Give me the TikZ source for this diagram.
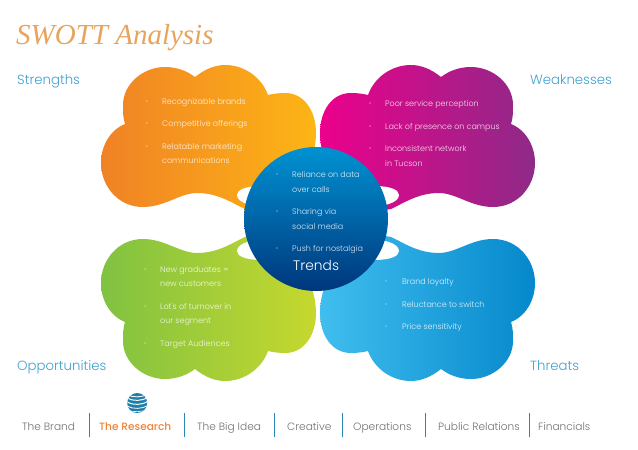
\documentclass[tikz,border=0pt]{standalone}
\usepackage{fontspec}
\setmainfont{Poppins}
\newfontfamily\lightf{Poppins Light}
\newfontfamily\medf{Poppins Medium}
\newfontfamily\titlef{Liberation Serif}
\definecolor{headblue}{HTML}{3FA0CF}
\definecolor{navgray}{HTML}{6F7175}
\definecolor{navorange}{HTML}{EE8438}
\definecolor{navline}{HTML}{2A86B8}
\definecolor{titleor}{HTML}{E9A45C}
\definecolor{globeblue}{HTML}{1F7FA8}
\newcommand{\cloudpath}{
  (195,77) .. controls (205,69) and (215,65) .. (225,65)
  .. controls (245,65) and (262,78) .. (268,95)
  .. controls (272,94) and (278,93) .. (285,93)
  .. controls (305,93) and (316,112) .. (316,133)
  .. controls (316,160) and (300,190) .. (280,215)
  -- (245,209)
  .. controls (232,203) and (218,193) .. (197,193)
  .. controls (180,193) and (165,207) .. (143,207)
  .. controls (118,207) and (101,186) .. (101,163)
  .. controls (101,146) and (110,130) .. (125,124)
  .. controls (123,118) and (123,112) .. (123,105)
  .. controls (123,84) and (143,67) .. (165,67)
  .. controls (177,67) and (187,71) .. (195,77) -- cycle}
\newcommand{\lobepath}{
  (237,195) .. controls (237,190) and (245,186) .. (262,186)
  -- (262,208) -- (247,204) .. controls (241,202) and (237,199) .. (237,195) -- cycle}
\tikzset{
  x=1pt,y=-1pt,
  item/.style={anchor=base west,inner sep=0pt,text=white,text opacity=0.85,font=\lightf\fontsize{8}{10}\selectfont},
  dot/.style={circle,fill=white,fill opacity=0.85,inner sep=0pt,minimum size=1.3pt},
  head/.style={anchor=base west,inner sep=0pt,text=headblue,font=\lightf\fontsize{13.3}{15}\selectfont},
  navitem/.style={anchor=base west,inner sep=0pt,text=navgray,font=\lightf\fontsize{10.6}{12}\selectfont},
  sep/.style={draw=navline,line width=0.9pt},
  gstripe/.style={draw=white,line width=1pt}
}
\begin{document}
\begin{tikzpicture}
\useasboundingbox (0,0) rectangle (638,450);
% clouds
\shade[left color={rgb,255:red,240;green,130;blue,37},right color={rgb,255:red,253;green,181;blue,21}] \cloudpath;
\begin{scope}[shift={(636,0)},xscale=-1]
\shade[left color={rgb,255:red,236;green,0;blue,140},right color={rgb,255:red,142;green,42;blue,135}] \cloudpath;
\end{scope}
\begin{scope}[shift={(0,446)},yscale=-1]
\shade[left color={rgb,255:red,128;green,194;blue,66},right color={rgb,255:red,198;green,216;blue,46}] \cloudpath;
\end{scope}
\begin{scope}[shift={(636,446)},xscale=-1,yscale=-1]
\shade[left color={rgb,255:red,64;green,190;blue,238},right color={rgb,255:red,5;green,136;blue,204}] \cloudpath;
\end{scope}
% lobes
\fill[white] \lobepath;
\begin{scope}[shift={(636,0)},xscale=-1]\fill[white] \lobepath;\end{scope}
\begin{scope}[shift={(0,446)},yscale=-1]\fill[white] \lobepath;\end{scope}
\begin{scope}[shift={(636,446)},xscale=-1,yscale=-1]\fill[white] \lobepath;\end{scope}
% centre
\node[circle,minimum size=144pt,inner sep=0pt,top color={rgb,255:red,0;green,146;blue,210},bottom color={rgb,255:red,0;green,54;blue,124}] (trendsdisc) at (316,219) {};
% title and heads
\node[anchor=base west,inner sep=0pt,text=titleor,font=\titlef\itshape\fontsize{29}{32}\selectfont] (title) at (16,44) {SWOTT Analysis};
\node[head] (hs) at (17,84) {Strengths};
\node[head] (hw) at (530,84) {Weaknesses};
\node[head] (ho) at (17,370) {Opportunities};
\node[head] (ht) at (530,370) {Threats};
% strengths
\node[dot] (s1d) at (147,101) {}; \node[item] (s1) at (162,104) {Recognizable brands};
\node[dot] (s2d) at (147,123) {}; \node[item] (s2) at (162,126) {Competitive offerings};
\node[dot] (s3d) at (147,146) {}; \node[item] (s3) at (162,149) {Relatable marketing};
\node[item] (s4) at (162,163) {communications};
% weaknesses
\node[dot] (w1d) at (370,103) {}; \node[item] (w1) at (385,106) {Poor service perception};
\node[dot] (w2d) at (370,126) {}; \node[item] (w2) at (385,129) {Lack of presence on campus};
\node[dot] (w3d) at (370,148) {}; \node[item] (w3) at (385,151) {Inconsistent network};
\node[item] (w4) at (385,166) {in Tucson};
% trends
\node[dot] (t1d) at (277,174) {}; \node[item] (t1) at (292,177) {Reliance on data};
\node[item] (t2) at (292,192) {over calls};
\node[dot] (t3d) at (277,211) {}; \node[item] (t3) at (292,214) {Sharing via};
\node[item] (t4) at (292,229) {social media};
\node[dot] (t5d) at (277,248) {}; \node[item] (t5) at (292,251) {Push for nostalgia};
\node[anchor=base west,inner sep=0pt,text=white,font=\lightf\fontsize{13.8}{15}\selectfont] (t6) at (293,270) {Trends};
% opportunities
\node[dot] (o1d) at (145,269) {}; \node[item] (o1) at (160,272) {New graduates =};
\node[item] (o2) at (160,286) {new customers};
\node[dot] (o3d) at (145,306) {}; \node[item] (o3) at (160,309) {Lot's of turnover in};
\node[item] (o4) at (160,323) {our segment};
\node[dot] (o5d) at (145,343) {}; \node[item] (o5) at (160,346) {Target Audiences};
% threats
\node[dot] (h1d) at (386,281) {}; \node[item] (h1) at (402,284) {Brand loyalty};
\node[dot] (h2d) at (386,304) {}; \node[item] (h2) at (402,307) {Reluctance to switch};
\node[dot] (h3d) at (386,326) {}; \node[item] (h3) at (402,329) {Price sensitivity};
% globe
\begin{scope}
\clip (137.2,403) circle (10);
\fill[globeblue] (127,393) rectangle (148,413);
\draw[gstripe,line width=0.9pt] (127,394.5) .. controls (133,398) and (142,397.5) .. (148,394);
\draw[gstripe,line width=1pt] (127,398) .. controls (133,401.5) and (142,401) .. (148,397.5);
\draw[gstripe,line width=1pt] (127,402) .. controls (133,405.5) and (142,405) .. (148,401.5);
\draw[gstripe,line width=0.8pt] (127,406) .. controls (133,409.5) and (142,409) .. (148,405.5);
\draw[gstripe,line width=0.6pt] (127,410) .. controls (133,412.5) and (142,412) .. (148,409.5);
\end{scope}
% nav
\node[navitem] (n1) at (22,430) {The Brand};
\node[navitem,text=navorange,font=\medf\fontsize{10.6}{12}\selectfont] (n2) at (99,430) {The Research};
\node[navitem] (n3) at (197,430) {The Big Idea};
\node[navitem] (n4) at (287,430) {Creative};
\node[navitem] (n5) at (353,430) {Operations};
\node[navitem] (n6) at (438,430) {Public Relations};
\node[navitem] (n7) at (538,430) {Financials};
\coordinate (a1) at (89,413); \coordinate (b1) at (89,437);
\coordinate (a2) at (184,413); \coordinate (b2) at (184,437);
\coordinate (a3) at (274,413); \coordinate (b3) at (274,437);
\coordinate (a4) at (342,413); \coordinate (b4) at (342,437);
\coordinate (a5) at (425,413); \coordinate (b5) at (425,437);
\coordinate (a6) at (529,413); \coordinate (b6) at (529,437);
\draw[sep] (a1) -- (b1);
\draw[sep] (a2) -- (b2);
\draw[sep] (a3) -- (b3);
\draw[sep] (a4) -- (b4);
\draw[sep] (a5) -- (b5);
\draw[sep] (a6) -- (b6);
\end{tikzpicture}
\end{document}
